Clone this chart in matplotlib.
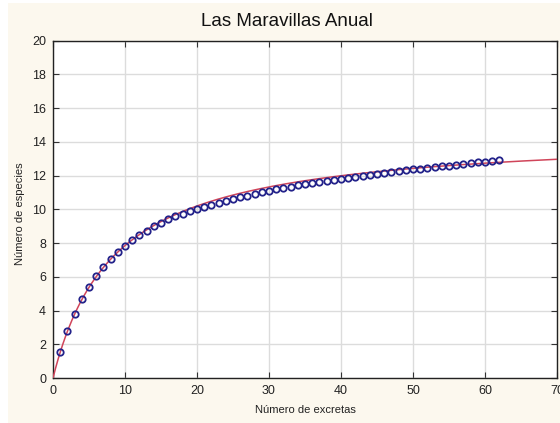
import matplotlib
matplotlib.use("Agg")
import matplotlib.pyplot as plt
import numpy as np
from matplotlib.patches import Rectangle

plt.rcParams['font.family'] = ['Liberation Sans', 'DejaVu Sans']

# Species accumulation: number of samples vs. observed species
excretas = list(range(1, 63))
especies = [1.52, 2.78, 3.79, 4.66, 5.40, 6.04, 6.57, 7.04, 7.47, 7.85,
            8.18, 8.46, 8.72, 8.99, 9.21, 9.41, 9.59, 9.75, 9.90, 10.04,
            10.16, 10.28, 10.39, 10.50, 10.61, 10.71, 10.81, 10.91, 11.00, 11.09,
            11.18, 11.26, 11.34, 11.42, 11.50, 11.57, 11.63, 11.69, 11.75, 11.81,
            11.86, 11.91, 11.97, 12.02, 12.08, 12.14, 12.20, 12.26, 12.32, 12.38,
            12.42, 12.47, 12.51, 12.56, 12.60, 12.64, 12.69, 12.73, 12.78, 12.82,
            12.87, 12.92]

# Fitted saturation model S(x) = a*x / (b + x)
param_a = 14.55
param_b = 8.53

x_ticks = [0, 10, 20, 30, 40, 50, 60, 70]
y_ticks = [0, 2, 4, 6, 8, 10, 12, 14, 16, 18, 20]

W, H = 560, 423
fig = plt.figure(figsize=(W / 100, H / 100), dpi=100)
fig.patch.set_facecolor('white')
bg = Rectangle((8 / W, 0), 1 - 8 / W, 1 - 3 / H, transform=fig.transFigure,
               facecolor='#fcf8ee', edgecolor='none', zorder=-10)
fig.add_artist(bg)

ax = fig.add_axes([53 / W, 45 / H, (557 - 53) / W, (378 - 40.7) / H])
ax.set_zorder(1)
ax.set_facecolor('white')

xs = np.linspace(0, 70, 400)
ax.plot(xs, param_a * xs / (param_b + xs), color='#d0455a', lw=1.1, zorder=3)
ax.plot(excretas, especies, linestyle='none', marker='o', markersize=4.6,
        markerfacecolor='none', markeredgecolor='#23228a', markeredgewidth=1.3,
        zorder=4, clip_on=False)

ax.set_xlim(0, 70)
ax.set_ylim(0, 20)
ax.set_xticks(x_ticks)
ax.set_yticks(y_ticks)
ax.grid(True, color='#dcdcdc', lw=1.0)
ax.set_axisbelow(True)
ax.tick_params(direction='in', length=4, width=0.8, colors='#333333',
               labelsize=9, labelcolor='#222222', top=True, right=True,
               pad=5)
for s in ax.spines.values():
    s.set_color('#222222')
    s.set_linewidth(1.0)

ax.set_xlabel('Número de excretas', fontsize=8, color='#222222', labelpad=6)
ax.set_ylabel('Número de especies', fontsize=8, color='#222222')
ax.yaxis.set_label_coords(-0.055, 0.486)
fig.text(287 / W, 1 - 22 / H, 'Las Maravillas Anual', ha='center', va='center',
         fontsize=13.5, color='#111111')

fig.savefig('out.png', dpi=100, facecolor=fig.get_facecolor())
